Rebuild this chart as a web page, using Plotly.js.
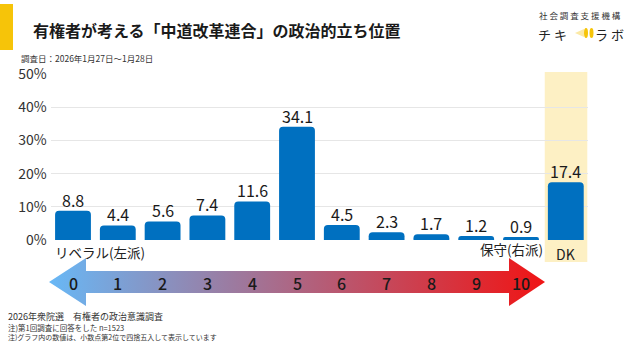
<!DOCTYPE html>
<html>
<head>
<meta charset="utf-8">
<script src="https://cdn.plot.ly/plotly-3.0.1.min.js"></script>
<style>html,body{margin:0;padding:0;background:#fff;}#chart{width:640px;height:360px;}</style>
</head>
<body>
<div id="chart"></div>
<script>
// ---- data ----
const categories = ['0','1','2','3','4','5','6','7','8','9','10','DK'];
const values = [8.8, 4.4, 5.6, 7.4, 11.6, 34.1, 4.5, 2.3, 1.7, 1.2, 0.9, 17.4];
const scaleLabels = ['0','1','2','3','4','5','6','7','8','9','10'];
const yTickVals = [0, 10, 20, 30, 40, 50];
const yTickText = ['0%', '10%', '20%', '30%', '40%', '50%'];
const titleText = '有権者が考える「中道改革連合」の政治的立ち位置';
const subtitleText = '調査日：2026年1月27日〜1月28日';
const leftLabel = 'リベラル(左派)';
const rightLabel = '保守(右派)';
const notes = ['2026年衆院選　有権者の政治意識調査', '注)第1回調査に回答をした n=1523', '注)グラフ内の数値は、小数点第2位で四捨五入して表示しています'];

const FONT = '"Noto Sans CJK JP", "Noto Sans", sans-serif';
const W = 640, H = 360;

// pixel helpers for layout domains
const px = v => v / W;
const py = v => (H - v) / H;

const traces = [
  {
    type: 'bar', x: categories, y: values,
    xaxis: 'x', yaxis: 'y',
    marker: {color: '#0070C0'},
    textposition: 'none',
    hoverinfo: 'skip'
  },
  {
    // gradient arrow (decoration) drawn in a pixel-coordinate overlay axis
    type: 'scatter', mode: 'lines', xaxis: 'x2', yaxis: 'y2',
    x: [49, 86, 86, 509, 509, 545, 509, 509, 86, 86, 49],
    y: [282, 258, 271, 271, 258, 282, 306, 293, 293, 306, 282],
    fill: 'toself', line: {width: 0},
    fillgradient: {type: 'horizontal', colorscale: [[0, '#68B8F6'], [0.5, '#AE6582'], [1, '#F01414']]},
    hoverinfo: 'skip'
  }
];

const annotations = [];
// value labels placed on the bars' data coordinates
categories.forEach((c, i) => annotations.push({
  xref: 'x', yref: 'y', x: c, y: values[i], yanchor: 'middle', yshift: 11,
  text: values[i].toFixed(1), showarrow: false, borderpad: 0,
  font: {family: FONT, size: 16, color: '#1a1a1a'}
}));
// arrow scale numbers aligned to bar categories
scaleLabels.forEach(s => annotations.push({
  xref: 'x', yref: 'y2', x: s, y: 283, text: s, showarrow: false,
  font: {family: FONT, size: 16, color: '#1a1a1a', weight: 500}
}));
annotations.push(
  {xref: 'x2', yref: 'y2', x: 31, y: 30, xanchor: 'left', text: '<b>' + titleText + '</b>', showarrow: false, font: {family: FONT, size: 16, color: '#1a1a1a'}},
  {xref: 'x2', yref: 'y2', x: 19, y: 58, xanchor: 'left', text: subtitleText, showarrow: false, font: {family: FONT, size: 8.5, color: '#333'}},
  {xref: 'x2', yref: 'y2', x: 580, y: 15, text: '社 会 調 査 支 援 機 構', showarrow: false, font: {family: FONT, size: 8.5, color: '#333'}},
  {xref: 'x2', yref: 'y2', x: 552, y: 34, text: 'チ キ', showarrow: false, font: {family: FONT, size: 13, color: '#222'}},
  {xref: 'x2', yref: 'y2', x: 609, y: 34, text: 'ラ ボ', showarrow: false, font: {family: FONT, size: 13, color: '#222'}},
  {xref: 'x2', yref: 'y2', x: 53, y: 252, xanchor: 'left', text: leftLabel, showarrow: false, font: {family: FONT, size: 13.5, color: '#222'}},
  {xref: 'x2', yref: 'y2', x: 544, y: 249, xanchor: 'right', text: rightLabel, showarrow: false, borderpad: 0, font: {family: FONT, size: 13.5, color: '#222'}},
  {xref: 'x', yref: 'y2', x: 'DK', y: 254, text: 'DK', showarrow: false, font: {family: FONT, size: 14, color: '#222'}},
  {xref: 'x2', yref: 'y2', x: 6, y: 316, xanchor: 'left', text: notes[0], showarrow: false, font: {family: FONT, size: 9, color: '#333'}},
  {xref: 'x2', yref: 'y2', x: 6, y: 327, xanchor: 'left', text: notes[1], showarrow: false, font: {family: FONT, size: 7.5, color: '#333'}},
  {xref: 'x2', yref: 'y2', x: 6, y: 336.5, xanchor: 'left', text: notes[2], showarrow: false, font: {family: FONT, size: 7, color: '#333'}}
);

const shapes = [
  // DK highlight band
  {type: 'rect', xref: 'x', yref: 'paper', x0: 10.53, x1: 11.48, y0: py(262), y1: py(72), fillcolor: '#FDF0C4', line: {width: 0}, layer: 'below'},
  // yellow accent bar at top-left
  {type: 'rect', xref: 'paper', yref: 'paper', x0: 0, x1: px(13), y0: py(50), y1: py(4), fillcolor: '#F6C409', line: {width: 0}},
  // logo icon
  {type: 'path', xref: 'paper', yref: 'paper', path: 'M ' + px(584) + ' ' + py(29) + ' L ' + px(575) + ' ' + py(33) + ' L ' + px(584) + ' ' + py(37) + ' Z', fillcolor: '#FBE9A6', line: {width: 0}},
  {type: 'circle', xref: 'paper', yref: 'paper', x0: px(584), x1: px(588), y0: py(38), y1: py(28), fillcolor: '#F6C409', line: {width: 0}},
  {type: 'circle', xref: 'paper', yref: 'paper', x0: px(589.5), x1: px(593.5), y0: py(38), y1: py(28), fillcolor: '#F6C409', line: {width: 0}}
];

const layout = {
  width: W, height: H,
  margin: {l: 0, r: 0, t: 0, b: 0},
  paper_bgcolor: '#ffffff', plot_bgcolor: 'rgba(0,0,0,0)',
  showlegend: false,
  bargap: 0.2,
  barcornerradius: 4,
  font: {family: FONT},
  xaxis: {
    domain: [px(50.6), px(588.2)], anchor: 'y',
    type: 'category', categoryorder: 'array', categoryarray: categories,
    range: [-0.5, 11.5], showticklabels: false, showgrid: false, zeroline: false, ticks: '', fixedrange: true
  },
  yaxis: {
    domain: [py(240), py(74)], anchor: 'x',
    range: [0, 50], tickmode: 'array', tickvals: yTickVals, ticktext: yTickText,
    showgrid: true, gridcolor: '#E6E6E6', gridwidth: 1, zeroline: false, showline: false,
    ticks: '', ticklabelstandoff: 3,
    tickfont: {family: FONT, size: 14, color: '#333'}, fixedrange: true
  },
  xaxis2: {domain: [0, 1], anchor: 'y2', range: [0, W], visible: false, fixedrange: true},
  yaxis2: {domain: [0, 1], anchor: 'x2', range: [H, 0], visible: false, fixedrange: true},
  annotations: annotations,
  shapes: shapes
};

Plotly.newPlot('chart', traces, layout, {displayModeBar: false, staticPlot: true});
</script>
</body>
</html>
